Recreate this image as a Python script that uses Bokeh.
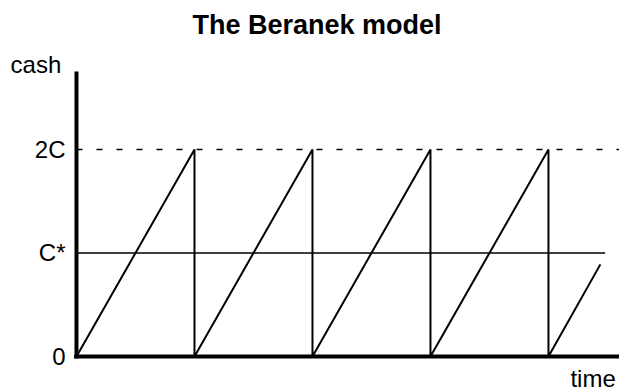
from bokeh.plotting import figure
from bokeh.models import Range1d
from bokeh.core.properties import value
from bokeh.embed import file_html
from bokeh.resources import INLINE

# ---- data ----
# time in units of one replenishment cycle, cash in units of C
saw_time = [0, 1, 1, 2, 2, 3, 3, 4, 4, 4.44]
saw_cash = [0, 2, 0, 2, 0, 2, 0, 2, 0, 0.89]
c_star_level = 1.0
c_star_span = [0, 4.48]
upper_level = 2.0
upper_span = [0, 4.61]
ytick_values = [0, 1, 2]
ytick_labels = ["0", "C*", "2C"]
title_text = "The Beranek model"
y_label = "cash"
x_label = "time"
y_axis_top = 2.754
x_axis_end = 4.61

FONT = "Liberation Sans"

p = figure(width=619, height=391, output_backend="svg", toolbar_location=None,
           x_range=Range1d(-0.644, 4.602), y_range=Range1d(-0.338, 3.014),
           min_border_left=0, min_border_right=0, min_border_bottom=0,
           min_border_top=44)
p.outline_line_color = None
p.axis.visible = False
p.xgrid.visible = False
p.ygrid.visible = False
p.background_fill_color = "white"
p.border_fill_color = "white"

p.title.text = title_text
p.title.text_font = FONT
p.title.text_font_size = "27px"
p.title.text_font_style = "bold"
p.title.align = "left"
p.title.offset = 192
p.title.standoff = 10
p.title.text_color = "black"

# reference levels
p.line(upper_span, [upper_level, upper_level], line_color="black",
       line_width=1.5, line_dash="6 14")
p.line(c_star_span, [c_star_level, c_star_level], line_color="black",
       line_width=1.3)

# sawtooth
p.line(saw_time, saw_cash, line_color="black", line_width=2)

# axes drawn as lines
p.line([0, 0], [-0.02, y_axis_top], line_color="black", line_width=4)
p.line([-0.02, x_axis_end], [0, 0], line_color="black", line_width=4)

# y tick labels
p.text(x=[-0.093] * len(ytick_values), y=ytick_values, text=ytick_labels,
       text_font=value(FONT), text_font_size=value("24px"),
       text_align="right", text_baseline="middle", text_color="black")

# axis titles
p.text(x=[-0.559], y=[2.816], text=[y_label], text_font=value(FONT),
       text_font_size=value("24px"), text_align="left",
       text_baseline="middle", text_color="black")
p.text(x=[4.186], y=[-0.217], text=[x_label], text_font=value(FONT),
       text_font_size=value("24px"), text_align="left",
       text_baseline="middle", text_color="black")

open("out.html", "w").write(file_html(p, INLINE))
